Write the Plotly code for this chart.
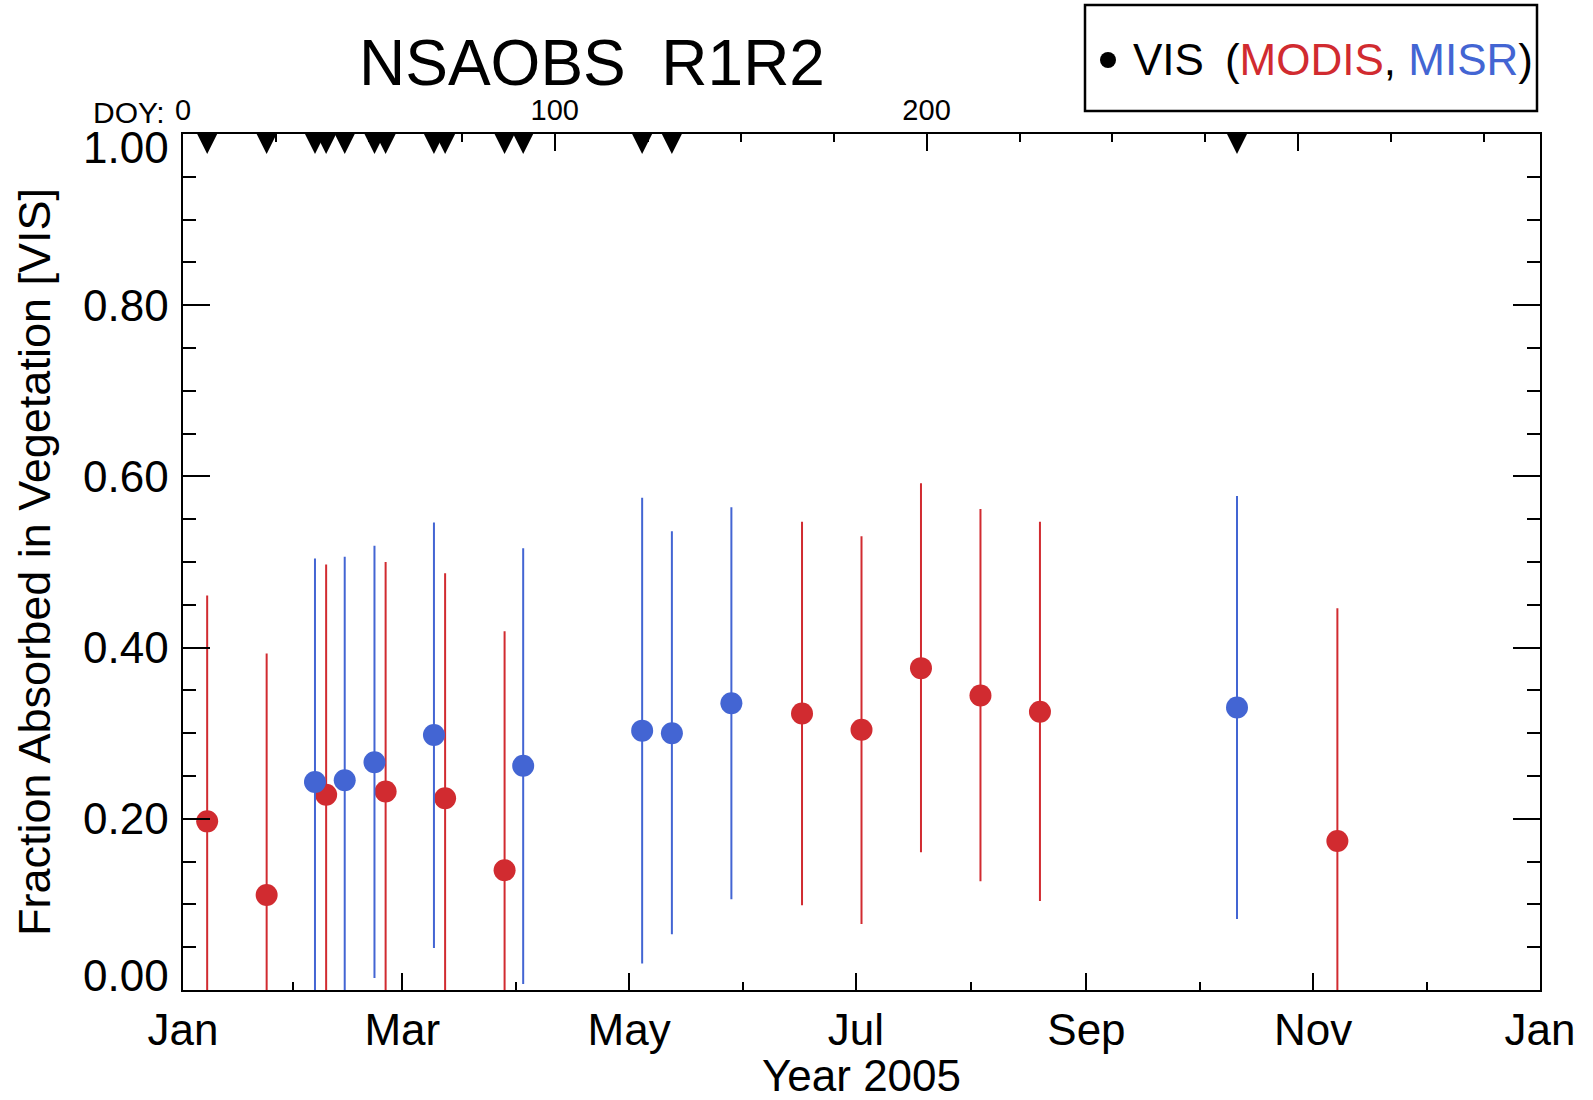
import plotly.graph_objects as go

# ---------------- data ----------------
modis_doy = [6.5, 22.5, 38.5, 54.5, 70.5, 86.5, 166.5, 182.5, 198.5, 214.5, 230.5, 310.5]
modis_val = [0.197, 0.111, 0.228, 0.232, 0.224, 0.140, 0.323, 0.304, 0.376, 0.344, 0.325, 0.174]
modis_hi = [0.461, 0.393, 0.497, 0.500, 0.487, 0.419, 0.547, 0.530, 0.592, 0.562, 0.547, 0.446]
modis_lo = [0.0, 0.0, 0.0, 0.0, 0.0, 0.0, 0.099, 0.077, 0.161, 0.127, 0.104, 0.0]

misr_doy = [35.5, 43.5, 51.5, 67.5, 91.5, 123.5, 131.5, 147.5, 283.5]
misr_val = [0.243, 0.245, 0.266, 0.298, 0.262, 0.303, 0.300, 0.335, 0.330]
misr_hi = [0.504, 0.506, 0.519, 0.546, 0.516, 0.575, 0.536, 0.564, 0.577]
misr_lo = [0.0, 0.0, 0.014, 0.049, 0.007, 0.031, 0.065, 0.106, 0.083]

flag_doy = [6.5, 22.5, 35.5, 38.5, 43.5, 51.5, 54.5, 67.5, 70.5, 86.5, 91.5, 123.5, 131.5, 283.5]

month_ticks = [0, 59, 120, 181, 243, 304, 365]
month_labels = ["Jan", "Mar", "May", "Jul", "Sep", "Nov", "Jan"]
doy_ticks = [0, 100, 200, 300]
doy_labels = ["0", "100", "200", ""]
y_ticks = [0.0, 0.2, 0.4, 0.6, 0.8, 1.0]

# ---------------- styling ----------------
RED = "#D12B30"
BLUE = "#4365D3"
FONT = "Liberation Sans, Arial, Helvetica, sans-serif"

W, H = 1593, 1100
L, R, T, B = 183, 1540, 134, 990
PW, PH = R - L, B - T


def px_x(px):
    return (px - L) / PW


def px_y(py):
    return (B - py) / PH


def err_trace(x, v, lo, hi, color, name):
    return go.Scatter(
        x=x, y=v, mode="markers", name=name, showlegend=False, cliponaxis=False,
        marker=dict(color=color, size=22, line=dict(width=0)),
        error_y=dict(type="data", symmetric=False,
                     array=[h - m for h, m in zip(hi, v)],
                     arrayminus=[m - l for m, l in zip(v, lo)],
                     color=color, thickness=2, width=0),
    )


fig = go.Figure()
fig.add_trace(err_trace(modis_doy, modis_val, modis_lo, modis_hi, RED, "MODIS"))
fig.add_trace(err_trace(misr_doy, misr_val, misr_lo, misr_hi, BLUE, "MISR"))

TRI = 20
fig.add_trace(go.Scatter(
    x=flag_doy, y=[1.0 - TRI / PH] * len(flag_doy), mode="markers",
    xaxis="x2", yaxis="y2", showlegend=False, cliponaxis=False,
    marker=dict(symbol="arrow-down", size=TRI, color="black", line=dict(width=0)),
))

month_minor = [(a + b) / 2 for a, b in zip(month_ticks[:-1], month_ticks[1:])]

axis_common = dict(showline=True, linecolor="black", linewidth=2, showgrid=False,
                   zeroline=False, ticks="inside", tickcolor="black", tickwidth=2,
                   automargin=False)

fig.update_layout(
    width=W, height=H, autosize=False,
    margin=dict(l=L, r=W - R, t=T, b=H - B, pad=0),
    paper_bgcolor="white", plot_bgcolor="white",
    font=dict(family=FONT, color="black"),
    showlegend=False,
    xaxis=dict(range=[0, 365], tickmode="array", tickvals=month_ticks, ticktext=month_labels,
               ticklen=17, tickfont=dict(size=44), anchor="y",
               minor=dict(tickmode="array", tickvals=month_minor, ticks="inside",
                          ticklen=8, tickwidth=2, tickcolor="black", showgrid=False),
               **axis_common),
    xaxis2=dict(range=[0, 365], overlaying="x", side="top", anchor="y2",
                tickmode="array", tickvals=doy_ticks, ticktext=doy_labels,
                ticklen=17, tickfont=dict(size=29),
                minor=dict(tickmode="linear", tick0=0, dtick=25, ticks="inside",
                           ticklen=8, tickwidth=2, tickcolor="black", showgrid=False),
                **axis_common),
    yaxis=dict(range=[0, 1], tickmode="array", tickvals=y_ticks, showticklabels=False,
               ticklen=27, anchor="x",
               minor=dict(tickmode="linear", tick0=0, dtick=0.05, ticks="inside",
                          ticklen=13, tickwidth=2, tickcolor="black", showgrid=False),
               **axis_common),
    yaxis2=dict(range=[0, 1], overlaying="y", side="right", anchor="x2",
                tickmode="array", tickvals=y_ticks, showticklabels=False, ticklen=27,
                minor=dict(tickmode="linear", tick0=0, dtick=0.05, ticks="inside",
                           ticklen=13, tickwidth=2, tickcolor="black", showgrid=False),
                **axis_common),
)

ann = []
# y tick labels (end labels sit inside the axis span, as in the reference)
for v in y_ticks:
    shift = 0
    if v == 0.0:
        shift = 15
    elif v == 1.0:
        shift = -13
    ann.append(dict(text=f"{v:.2f}", x=0, xref="paper", y=v, yref="y",
                    xanchor="right", yanchor="middle", xshift=-12, yshift=shift,
                    showarrow=False, font=dict(size=44)))

ann.append(dict(text="Fraction Absorbed in Vegetation [VIS]", x=px_x(34), xref="paper",
                y=0.5, yref="paper", textangle=-90, showarrow=False,
                xanchor="center", yanchor="middle", font=dict(size=45)))
ann.append(dict(text="Year 2005", x=0.5, xref="paper", y=px_y(1075), yref="paper",
                showarrow=False, xanchor="center", yanchor="middle", font=dict(size=44)))
ann.append(dict(text="NSAOBS\u00a0\u00a0R1R2", x=px_x(592), xref="paper", y=px_y(63),
                yref="paper", showarrow=False, xanchor="center", yanchor="middle",
                font=dict(size=64)))
ann.append(dict(text="DOY:", x=0, xref="paper", y=px_y(112), yref="paper",
                xanchor="right", yanchor="middle", xshift=-16, showarrow=False,
                font=dict(size=30)))
ann.append(dict(
    text=("VIS\u00a0\u2009(<span style='color:%s'>MODIS</span>,"
          "\u00a0<span style='color:%s'>MISR</span>)") % (RED, BLUE),
    x=px_x(1131), xref="paper", y=px_y(60), yref="paper",
    xanchor="left", yanchor="middle", showarrow=False, font=dict(size=44)))

fig.update_layout(annotations=ann)

fig.update_layout(shapes=[
    dict(type="rect", xref="paper", yref="paper",
         x0=px_x(1085), x1=px_x(1537), y0=px_y(111), y1=px_y(5),
         line=dict(color="black", width=2.5), fillcolor="white", layer="below"),
    dict(type="circle", xref="paper", yref="paper",
         x0=px_x(1100), x1=px_x(1116), y0=px_y(68), y1=px_y(52),
         line=dict(color="black", width=0), fillcolor="black"),
])

fig.write_html("out.html")
